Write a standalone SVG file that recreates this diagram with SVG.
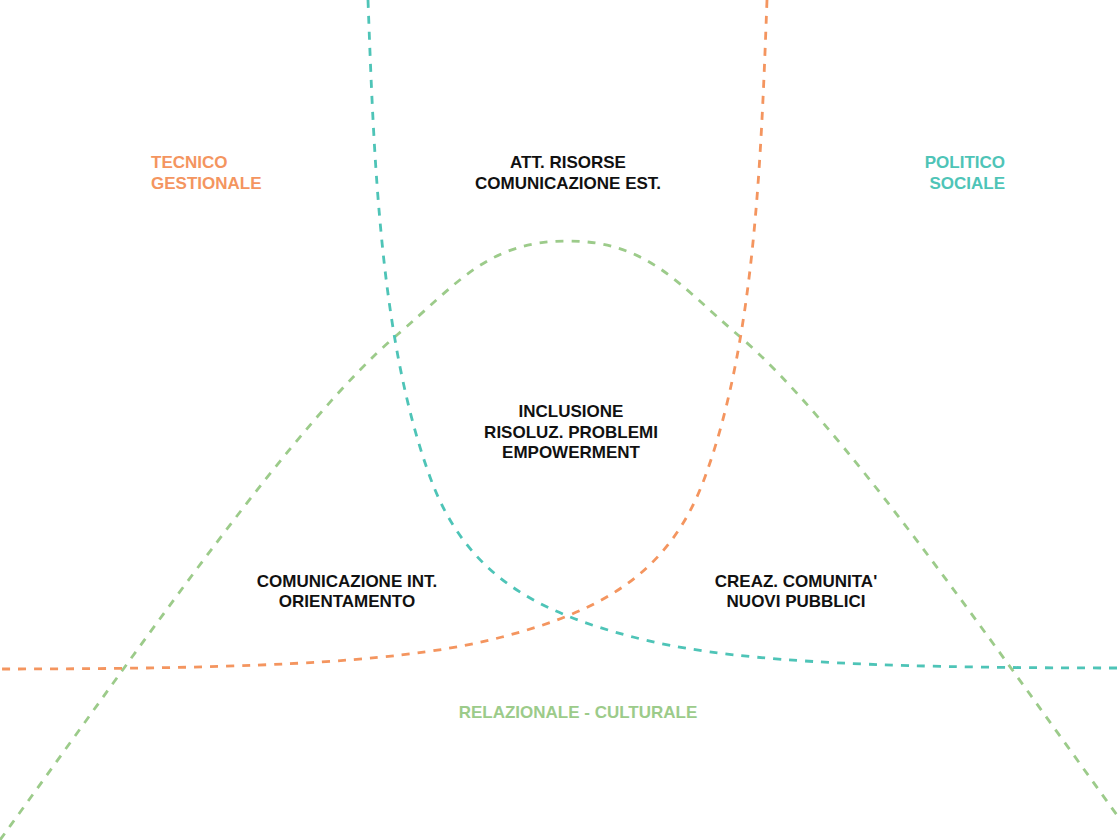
<svg xmlns="http://www.w3.org/2000/svg" width="1119" height="840" viewBox="0 0 1119 840">
  <style>
    .curve { fill: none; stroke-width: 2.8; stroke-dasharray: 8 8; }
    .orange { stroke: #F4955F; }
    .teal { stroke: #4EC4B7; }
    .green { stroke: #9CCB8A; }
    text { font-family: "Liberation Sans", Arial, sans-serif; font-weight: bold; font-size: 17px; }
    .dark { fill: #111111; }
    .t-orange { fill: #F4955F; }
    .t-teal { fill: #4EC4B7; }
    .t-green { fill: #9CCB8A; }
  </style>
  <rect x="0" y="0" width="1119" height="840" fill="#FFFFFF"/>
  <g id="connectors">
    <path class="curve green" d="M0,840 C150,633 297,420 397,335 C457,284 487.5,241 567.5,241 C647.5,241 678,284 738,335 C838,420 985,633 1135,840"/>
    <path class="curve teal" d="M368,0 C374,160 380,340 430,477 C465,573 533,611 633,637 C723,660.4 850,668 1125,668"/>
    <path class="curve orange" d="M767,0 C761,160 755,340 705,477 C670,573 602,611 502,637 C412,660.4 285,669 -6,669"/>
  </g>
  <g id="tecnico-gestionale">
    <text class="t-orange" x="151" y="167.5">TECNICO</text>
    <text class="t-orange" x="151" y="189">GESTIONALE</text>
  </g>
  <g id="politico-sociale">
    <text class="t-teal" x="1005" y="167.5" text-anchor="end">POLITICO</text>
    <text class="t-teal" x="1005" y="189" text-anchor="end">SOCIALE</text>
  </g>
  <g id="att-risorse">
    <text class="dark" x="568" y="167.5" text-anchor="middle">ATT. RISORSE</text>
    <text class="dark" x="568" y="188.5" text-anchor="middle">COMUNICAZIONE EST.</text>
  </g>
  <g id="inclusione">
    <text class="dark" x="571" y="416.5" text-anchor="middle">INCLUSIONE</text>
    <text class="dark" x="571" y="437.5" text-anchor="middle">RISOLUZ. PROBLEMI</text>
    <text class="dark" x="571" y="458" text-anchor="middle">EMPOWERMENT</text>
  </g>
  <g id="comunicazione-int">
    <text class="dark" x="347" y="586.5" text-anchor="middle">COMUNICAZIONE INT.</text>
    <text class="dark" x="347" y="607" text-anchor="middle">ORIENTAMENTO</text>
  </g>
  <g id="creaz-comunita">
    <text class="dark" x="796" y="586.5" text-anchor="middle">CREAZ. COMUNITA'</text>
    <text class="dark" x="796" y="607" text-anchor="middle">NUOVI PUBBLICI</text>
  </g>
  <g id="relazionale-culturale">
    <text class="t-green" x="578" y="717.5" text-anchor="middle">RELAZIONALE - CULTURALE</text>
  </g>
</svg>
